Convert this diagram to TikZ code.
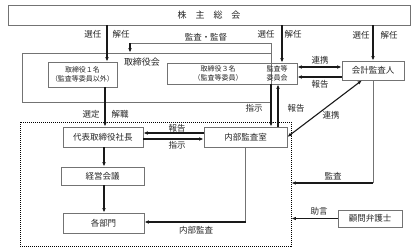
\documentclass[tikz,border=0pt]{standalone}
\usepackage{fontspec}
\setmainfont{Noto Sans CJK JP}
\usetikzlibrary{arrows.meta}

\begin{document}
\begin{tikzpicture}[x=1pt, y=-1pt, font=\fontsize{8.5}{10}\selectfont]
            % 样式
            \tikzstyle{box}=[draw=black!55, line width=0.6pt, inner sep=0pt, align=center, text=black!85]
            \tikzstyle{small}=[font=\fontsize{7}{9}\selectfont, align=center, inner sep=0pt, text=black!85]
            \tikzstyle{arr}=[-{Latex[length=4.5pt,width=3.5pt]}, line width=1.1pt, black!90]
            \tikzstyle{dbl}=[{Latex[length=4.5pt,width=3.5pt]}-{Latex[length=4.5pt,width=3.5pt]}, line width=1.1pt, black!90]
            \tikzstyle{thinline}=[draw=black!55, line width=0.6pt]
            \tikzstyle{lbl}=[text=black!85, inner sep=0pt]

            \useasboundingbox (0,0) rectangle (416,252);

            % 株主総会
            \node[box, minimum width=402pt, minimum height=20pt, font=\fontsize{9}{10}\selectfont] (gm) at (209,15) {株　主　総　会};

            % 取締役会
            \node[box, minimum width=249pt, minimum height=49pt] (board) at (146.5,77.5) {};
            \node[lbl, font=\fontsize{9}{10}\selectfont] (boardlbl) at (142,62) {取締役会};
            \node[box, minimum width=69pt, minimum height=25pt] (dir1) at (82.5,74.5) {};
            \node[small] (dir1txt) at (dir1) {取締役１名\\（監査等委員以外）};
            \node[box, minimum width=130pt, minimum height=21pt] (ac) at (232,73.5) {};
            \node[small] (acl) at (218,73.5) {取締役３名\\（監査等委員）};
            \node[small] (acr) at (277,73.5) {監査等\\委員会};

            % 会計監査人, 顧問弁護士
            \node[box, minimum width=62pt, minimum height=19pt] (kaikei) at (373,70.5) {会計監査人};
            \node[box, minimum width=64pt, minimum height=17pt] (lawyer) at (370,218.5) {顧問弁護士};

            % 执行部分 (虚线框)
            \node[draw, line width=0.8pt, dash pattern=on 1pt off 1pt, minimum width=271pt, minimum height=124pt, inner sep=0pt] (grp) at (155.5,184) {};
            \node[box, minimum width=80pt, minimum height=20pt] (pres) at (103,137) {代表取締役社長};
            \node[box, minimum width=83pt, minimum height=20pt] (audit) at (245.5,137) {内部監査室};
            \node[box, minimum width=83pt, minimum height=18pt] (mtg) at (102.5,176) {経営会議};
            \node[box, minimum width=81pt, minimum height=20pt] (dept) at (103.5,223) {各部門};

            % 選任・解任
            \draw[arr] (gm.south -| 107,0) -- (dir1.north -| 107,0);
            \node[lbl] at (93,34) {選任};
            \node[lbl] at (121,34) {解任};
            \draw[arr] (gm.south -| 282,0) -- (ac.north -| 282,0);
            \node[lbl] at (266,34) {選任};
            \node[lbl] at (293,34) {解任};
            \draw[arr] (gm.south -| kaikei) -- (kaikei.north);
            \node[lbl] at (361,35) {選任};
            \node[lbl] at (389,35) {解任};

            % 監査・監督
            \coordinate (kansa) at (130,43);
            \draw[thinline] (ac.north -| 271,0) |- (kansa);
            \draw[arr] (kansa) -- (kansa |- board.north);
            \node[lbl] at (206,37) {監査・監督};

            % 選定・解職
            \draw[arr] (dir1.south -| 105,0) -- (pres.north -| 105,0);
            \node[lbl] at (91,114) {選定};
            \node[lbl] at (120,114) {解職};

            % 監査等委員会 <-> 内部監査室
            \draw[arr] (ac.south -| 271,0) -- (audit.north -| 271,0);
            \draw[arr] (audit.north -| 278,0) -- (ac.south -| 278,0);
            \node[lbl] at (254,108) {指示};
            \node[lbl] at (296,108) {報告};

            % 監査等委員会 <-> 会計監査人
            \draw[dbl] (ac.east |- 0,67) -- (kaikei.west |- 0,67);
            \draw[arr] (kaikei.west |- 0,77) -- (ac.east |- 0,77);
            \node[lbl] at (320,60) {連携};
            \node[lbl] at (320,84) {報告};
            \draw[dbl] ([xshift=-11pt]kaikei.south) -- (audit.east);
            \node[lbl] at (331,115) {連携};

            % 監査, 助言
            \draw[thinline] (kaikei.south) -- (kaikei.south |- 0,183) coordinate (kc);
            \draw[arr] (kc) -- (kc -| grp.east);
            \node[lbl] at (333,176) {監査};
            \draw[arr] (lawyer.west) -- (lawyer.west -| grp.east);
            \node[lbl] at (319,211) {助言};

            % 代表取締役社長 <-> 内部監査室
            \draw[arr] (audit.west |- 0,133) -- (pres.east |- 0,133);
            \draw[arr] (pres.east |- 0,139) -- (audit.west |- 0,139);
            \node[lbl] at (177,128) {報告};
            \node[lbl] at (177,145) {指示};

            % 下方
            \draw[arr] (pres.south -| 104,0) -- (mtg.north -| 104,0);
            \draw[arr] (mtg.south -| 104,0) -- (dept.north -| 104,0);
            \draw[thinline] (audit.south) -- (audit.south |- 0,222) coordinate (ic);
            \draw[arr] (ic) -- (ic -| dept.east);
            \node[lbl] at (196,230) {内部監査};
        \end{tikzpicture}
\end{document}
